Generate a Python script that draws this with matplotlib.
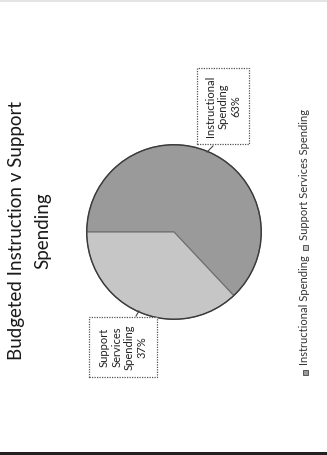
import matplotlib.pyplot as plt
from matplotlib.patches import Rectangle
from matplotlib.lines import Line2D

# budget split
labels = ['Instructional Spending', 'Support Services Spending']
box_labels = ['Instructional\nSpending', 'Support\nServices\nSpending']
values = [63, 37]
colors = ['#9a9a9a', '#c6c6c6']
title_lines = ['Budgeted Instruction v Support', 'Spending']

W, H = 327, 455
plt.rcParams['font.family'] = ['Lato', 'DejaVu Sans']


def px(x, y):
    return x / W, 1 - y / H


fig = plt.figure(figsize=(W / 100, H / 100), dpi=100)
fig.patch.set_facecolor('white')

# pie, page is turned so everything sits sideways
cx, cy, r = 174, 232, 89
ax = fig.add_axes([(cx - r) / W, (H - cy - r) / H, 2 * r / W, 2 * r / H])
wedges, _ = ax.pie(values, colors=colors, startangle=180, counterclock=False,
                   wedgeprops=dict(edgecolor='#6e6e6e', linewidth=0.8))
ax.add_patch(plt.Circle((0, 0), 1, fill=False, ec='#3a3a3a', lw=1.0))
ax.set_xlim(-1.02, 1.02)
ax.set_ylim(-1.02, 1.02)
ax.axis('off')

# title
fig.text(*px(17, 231), title_lines[0], rotation=90, ha='center', va='center',
         fontsize=13.5, color='#1a1a1a')
fig.text(*px(43, 231), title_lines[1], rotation=90, ha='center', va='center',
         fontsize=13.5, color='#1a1a1a')

# data labels in dotted boxes
boxes = [(197, 68, 249, 144), (89, 317, 157, 377)]
leaders = [((213, 146), (207, 152)), ((136, 316), (139, 311))]
for (x0, y0, x1, y1), txt, v, ld in zip(boxes, box_labels, values, leaders):
    fx0, fy1 = px(x0, y0)
    fx1, fy0 = px(x1, y1)
    fig.add_artist(Rectangle((fx0, fy0), fx1 - fx0, fy1 - fy0,
                             transform=fig.transFigure, fc='white',
                             ec='#555555', lw=0.9, ls=(0, (1, 1))))
    fig.text(*px((x0 + x1) / 2, (y0 + y1) / 2), f'{txt}\n{v}%', rotation=90,
             ha='center', va='center', fontsize=8, color='#222222',
             linespacing=1.2, multialignment='center')
    (ax0, ay0), (ax1, ay1) = ld
    fig.add_artist(Line2D([ax0 / W, ax1 / W], [1 - ay0 / H, 1 - ay1 / H],
                          transform=fig.transFigure, color='#444444', lw=0.8))

# legend, drawn by hand since it runs sideways
legend_pos = [(305, 372, 365), (305, 247, 240)]
for (lx, ly, ty), lab, c in zip(legend_pos, labels, colors):
    s = 5
    fig.add_artist(Rectangle(((lx - s / 2) / W, 1 - (ly + s / 2) / H), s / W, s / H,
                             transform=fig.transFigure, fc=c, ec='#444444', lw=0.6))
    fig.text(*px(lx, ty), lab, rotation=90, ha='center', va='bottom',
             fontsize=8, color='#333333')

# dark edge along the bottom of the sheet
fig.add_artist(Rectangle((0, 0), 1, 3 / H, transform=fig.transFigure,
                         fc='#222222', ec='none'))
fig.add_artist(Rectangle((0, 1 - 1.5 / H), 1, 1.5 / H, transform=fig.transFigure,
                         fc='#e4e4e4', ec='none'))

fig.savefig('out.png', dpi=100)
